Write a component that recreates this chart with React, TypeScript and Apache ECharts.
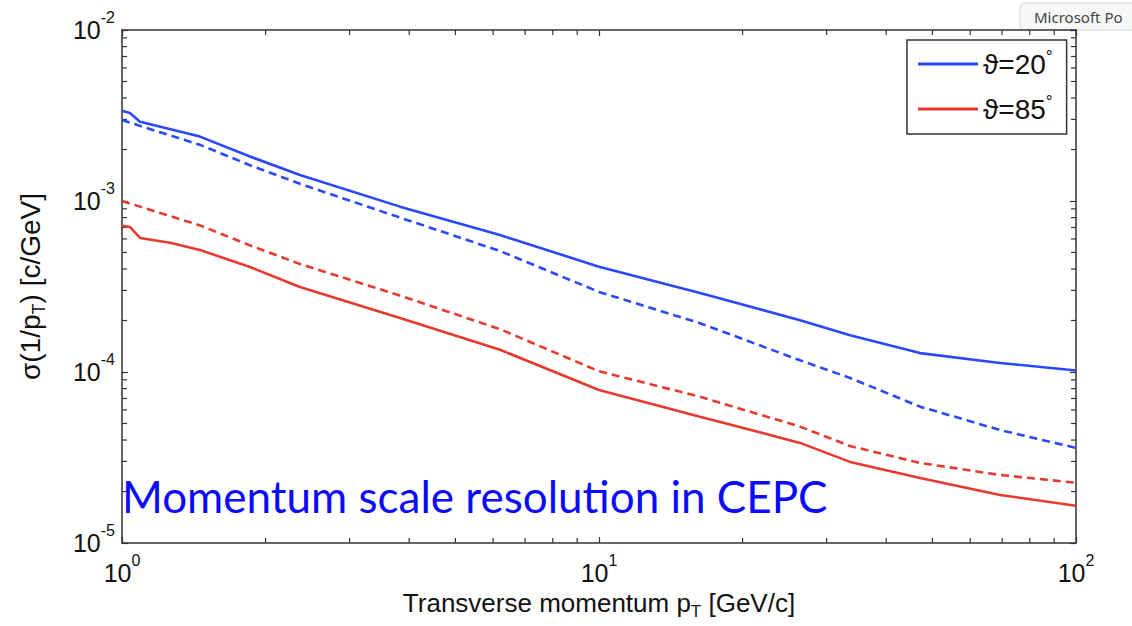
import React, { useEffect, useRef } from "react";
import * as echarts from "echarts";

// ---- data ----
const X_MIN = 1;
const X_MAX = 100;
const Y_MIN = 1e-5;
const Y_MAX = 1e-2;

const blueSolidX = [1, 1.039, 1.091, 1.457, 1.855, 2.361, 3.826, 6.2, 10, 16.28, 26.4, 33.6, 47.1, 69.3, 100];
const blueSolidY = [3.37e-3, 3.27e-3, 2.91e-3, 2.38e-3, 1.82e-3, 1.42e-3, 9.27e-4, 6.32e-4, 4.13e-4, 2.9e-4, 2.01e-4, 1.64e-4, 1.29e-4, 1.13e-4, 1.02e-4];

const blueDashX = [1, 1.091, 1.457, 1.855, 2.361, 3.826, 6.2, 10, 16.28, 26.4, 33.6, 47.1, 69.3, 100];
const blueDashY = [2.98e-3, 2.75e-3, 2.13e-3, 1.62e-3, 1.26e-3, 8.0e-4, 5.1e-4, 2.94e-4, 1.93e-4, 1.17e-4, 9.23e-5, 6.27e-5, 4.58e-5, 3.6e-5];

const redDashX = [1, 1.457, 1.855, 2.361, 3.826, 6.2, 10, 16.28, 26.4, 33.6, 47.1, 69.3, 100];
const redDashY = [1.0e-3, 7.2e-4, 5.5e-4, 4.28e-4, 2.8e-4, 1.78e-4, 1.01e-4, 7.17e-5, 4.79e-5, 3.69e-5, 2.94e-5, 2.5e-5, 2.25e-5];

const redSolidX = [1, 1.039, 1.091, 1.261, 1.457, 1.855, 2.361, 3.826, 6.2, 10, 16.28, 26.4, 33.6, 47.1, 69.3, 100];
const redSolidY = [7.17e-4, 7.05e-4, 6.08e-4, 5.7e-4, 5.17e-4, 4.11e-4, 3.14e-4, 2.07e-4, 1.35e-4, 7.85e-5, 5.48e-5, 3.85e-5, 2.98e-5, 2.4e-5, 1.91e-5, 1.65e-5];

const X_MINOR = [2, 3, 4, 5, 6, 7, 8, 9, 20, 30, 40, 50, 60, 70, 80, 90];
const Y_MINOR = [
  2e-5, 3e-5, 4e-5, 5e-5, 6e-5, 7e-5, 8e-5, 9e-5,
  2e-4, 3e-4, 4e-4, 5e-4, 6e-4, 7e-4, 8e-4, 9e-4,
  2e-3, 3e-3, 4e-3, 5e-3, 6e-3, 7e-3, 8e-3, 9e-3,
];

const LEGEND_NAMES = ["\u03D1=20", "\u03D1=85"];
const X_NAME = "{n|Transverse momentum p}{sub|T}{n| [GeV/c]}";
const Y_NAME = "{n|\u03C3(1/p}{sub|T}{n|) [c/GeV]}";
const OVERLAY_TEXT = "Momentum scale resolution in CEPC";
const TOOLTIP_TEXT = "Microsoft Po";

const BLUE = "#2a48ff";
const RED = "#e8392f";
const AXIS = "#333333";
const FONT = "'Liberation Sans', Arial, sans-serif";

const zip = (xs: number[], ys: number[]) => xs.map((x, i) => [x, ys[i]]);

const expLabel = (v: number) => {
  const e = Math.round(Math.log10(v));
  return `{b|10}{s|${e}}`;
};

const labelRich = {
  b: { fontSize: 25, lineHeight: 42, color: "#111", fontFamily: FONT },
  s: { fontSize: 16, lineHeight: 16, verticalAlign: "top", color: "#111", fontFamily: FONT },
};

const nameRichX = {
  n: { fontSize: 26, lineHeight: 34, color: "#111", fontFamily: FONT },
  sub: { fontSize: 17, lineHeight: 15, verticalAlign: "bottom", color: "#111", fontFamily: FONT },
};

const nameRichY = {
  n: { fontSize: 28, lineHeight: 36, color: "#111", fontFamily: FONT },
  sub: { fontSize: 18, lineHeight: 16, verticalAlign: "bottom", color: "#111", fontFamily: FONT },
};

export default function App() {
  const ref = useRef<HTMLDivElement>(null);

  useEffect(() => {
    document.body.style.margin = "0";
    if (!ref.current) return;
    const chart = echarts.init(ref.current, null, { renderer: "svg" });

    const axisLine = { show: true, onZero: false, lineStyle: { color: AXIS, width: 1.5 } };
    const tick = { show: true, inside: true, length: 6, lineStyle: { color: AXIS, width: 1.2 } };

    const option: any = {
      animation: false,
      backgroundColor: "#ffffff",
      grid: { left: 122, right: 56, top: 30, bottom: 83, containLabel: false, outerBoundsMode: "none" },
      xAxis: [
        {
          type: "log",
          logBase: 10,
          min: X_MIN,
          max: X_MAX,
          position: "bottom",
          axisLine,
          axisTick: tick,
          splitLine: { show: false },
          axisLabel: {
            show: true,
            margin: 9,
            showMinLabel: true,
            showMaxLabel: true,
            formatter: expLabel,
            rich: labelRich,
          },
          name: X_NAME,
          nameLocation: "middle",
          nameGap: 41,
          nameTextStyle: { rich: nameRichX },
        },
        {
          type: "log",
          logBase: 10,
          min: X_MIN,
          max: X_MAX,
          position: "top",
          axisLine,
          axisTick: tick,
          splitLine: { show: false },
          axisLabel: { show: false },
        },
      ],
      yAxis: [
        {
          type: "log",
          logBase: 10,
          min: Y_MIN,
          max: Y_MAX,
          position: "left",
          axisLine,
          axisTick: tick,
          splitLine: { show: false },
          axisLabel: {
            show: true,
            margin: 7,
            showMinLabel: true,
            showMaxLabel: true,
            formatter: expLabel,
            rich: labelRich,
          },
          name: Y_NAME,
          nameLocation: "middle",
          nameRotate: 90,
          nameGap: 74,
          nameTextStyle: { rich: nameRichY },
        },
        {
          type: "log",
          logBase: 10,
          min: Y_MIN,
          max: Y_MAX,
          position: "right",
          axisLine,
          axisTick: tick,
          splitLine: { show: false },
          axisLabel: { show: false },
        },
      ],
      legend: {
        show: true,
        data: LEGEND_NAMES,
        orient: "vertical",
        left: 907,
        top: 40,
        icon: "rect",
        itemWidth: 60,
        itemHeight: 3,
        itemGap: 15,
        padding: [8, 14, 11, 11],
        borderColor: AXIS,
        borderWidth: 1.5,
        backgroundColor: "#ffffff",
        selectedMode: false,
        formatter: (name: string) => `{t|${name}}{d|\u00B0}`,
        textStyle: {
          rich: {
            t: { fontSize: 28, lineHeight: 32, color: "#111", fontFamily: FONT },
            d: { fontSize: 17, lineHeight: 17, verticalAlign: "top", color: "#111", fontFamily: FONT },
          },
        },
      },
      series: [
        {
          name: LEGEND_NAMES[0],
          type: "line",
          data: zip(blueSolidX, blueSolidY),
          showSymbol: false,
          symbol: "none",
          lineStyle: { color: BLUE, width: 2.6 },
          itemStyle: { color: BLUE },
          z: 3,
        },
        {
          name: LEGEND_NAMES[1],
          type: "line",
          data: zip(redSolidX, redSolidY),
          showSymbol: false,
          symbol: "none",
          lineStyle: { color: RED, width: 2.6 },
          itemStyle: { color: RED },
          z: 3,
        },
        {
          name: LEGEND_NAMES[0],
          type: "line",
          data: zip(blueDashX, blueDashY),
          showSymbol: false,
          symbol: "none",
          lineStyle: { color: BLUE, width: 2.6, type: [8, 5] },
          itemStyle: { color: BLUE },
          z: 3,
        },
        {
          name: LEGEND_NAMES[1],
          type: "line",
          data: zip(redDashX, redDashY),
          showSymbol: false,
          symbol: "none",
          lineStyle: { color: RED, width: 2.6, type: [8, 5] },
          itemStyle: { color: RED },
          z: 3,
        },
        {
          type: "custom",
          silent: true,
          clip: false,
          data: X_MINOR.map((v) => [v, Y_MIN]),
          renderItem: (_p: any, api: any) => {
            const xv = api.value(0);
            const b = api.coord([xv, Y_MIN]);
            const t = api.coord([xv, Y_MAX]);
            const st = { stroke: AXIS, lineWidth: 1.2 };
            return {
              type: "group",
              children: [
                { type: "line", shape: { x1: b[0], y1: b[1], x2: b[0], y2: b[1] - 5 }, style: st },
                { type: "line", shape: { x1: t[0], y1: t[1], x2: t[0], y2: t[1] + 5 }, style: st },
              ],
            };
          },
        },
        {
          type: "custom",
          silent: true,
          clip: false,
          data: Y_MINOR.map((v) => [X_MIN, v]),
          renderItem: (_p: any, api: any) => {
            const yv = api.value(1);
            const l = api.coord([X_MIN, yv]);
            const r = api.coord([X_MAX, yv]);
            const st = { stroke: AXIS, lineWidth: 1.2 };
            return {
              type: "group",
              children: [
                { type: "line", shape: { x1: l[0], y1: l[1], x2: l[0] + 5, y2: l[1] }, style: st },
                { type: "line", shape: { x1: r[0], y1: r[1], x2: r[0] - 5, y2: r[1] }, style: st },
              ],
            };
          },
        },
      ],
      graphic: [
        {
          type: "text",
          z: 100,
          x: 122,
          y: 496,
          style: {
            text: OVERLAY_TEXT,
            font: "44px Lato, 'Noto Sans', sans-serif",
            fill: "#0a0aff",
            textVerticalAlign: "middle",
            textAlign: "left",
          },
        },
        {
          type: "group",
          z: 200,
          children: [
            {
              type: "rect",
              shape: { x: 1020, y: 3, width: 140, height: 27, r: 5 },
              style: { fill: "#f7f7f7", stroke: "#d4d4d4", lineWidth: 1 },
            },
            {
              type: "text",
              x: 1034,
              y: 16.5,
              style: {
                text: TOOLTIP_TEXT,
                font: "15px 'Noto Sans', sans-serif",
                fill: "#444",
                textVerticalAlign: "middle",
              },
            },
          ],
        },
      ],
    };

    chart.setOption(option);
    return () => chart.dispose();
  }, []);

  return <div ref={ref} style={{ width: 1132, height: 626 }} />;
}
